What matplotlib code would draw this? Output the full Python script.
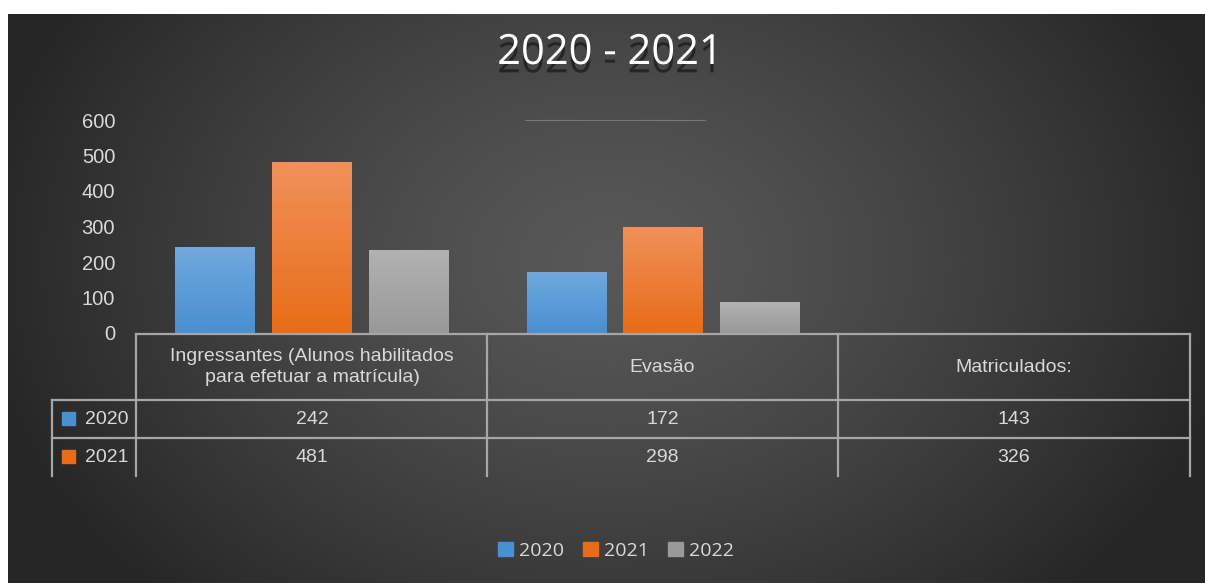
import matplotlib.pyplot as plt
import matplotlib.patheffects as pe
import numpy as np
from matplotlib.patches import Rectangle

# dados
categorias = ["Ingressantes (Alunos habilitados\npara efetuar a matrícula)", "Evasão", "Matriculados:"]
anos = ["2020", "2021", "2022"]
v2020 = [242, 172, 143]
v2021 = [481, 298, 326]
v2022 = [235, 87]          # sem linha na tabela
n_barras = 2               # a categoria "Matriculados:" não mostra barras
yticks = [0, 100, 200, 300, 400, 500, 600]

W, H = 1205, 583
fig = plt.figure(figsize=(W / 100, H / 100), dpi=100, facecolor="white")

def fx(px):
    return px / W

def fy(py):
    return 1 - py / H

# fundo com gradiente radial
bg = fig.add_axes([fx(8), 0, fx(W - 8), fy(14)])
bg.axis("off")
xx, yy = np.meshgrid(np.linspace(8, W, 400), np.linspace(14, H, 200))
r = np.sqrt(((xx - 610) / 640) ** 2 + ((yy - 260) / 480) ** 2)
lum = (88 - 50 * np.clip(r, 0, 1) ** 1.3) / 255
img = np.dstack([lum, lum, lum])
bg.imshow(img, extent=[0, 1, 0, 1], aspect="auto", origin="upper")
bg.set_xlim(0, 1)
bg.set_ylim(0, 1)

txt = "#d9d9d9"
linha = "#a6a6a6"

# titulo com sombra
fig.text(fx(610), fy(53), "2020 - 2021", ha="center", va="center", fontsize=30,
         family="Open Sans", color="white",
         path_effects=[pe.SimplePatchShadow(offset=(0, -6), shadow_rgbFace="#1a1a1a", alpha=0.75),
                       pe.Normal()])
fig.add_artist(plt.Line2D([fx(525), fx(705)], [fy(120), fy(120)], color="#777777", lw=0.8))

# eixo das barras
ax = fig.add_axes([fx(136), fy(333), fx(1190 - 136), fy(120) - fy(333)])
ax.set_facecolor("none")
ax.set_xlim(0, 3)
ax.set_ylim(0, 600)
for s in ax.spines.values():
    s.set_visible(False)
ax.set_xticks([])
ax.set_yticks(yticks)
ax.tick_params(axis="y", length=0, pad=15, labelsize=14.5, labelcolor=txt)
for lb in ax.get_yticklabels():
    lb.set_family("Liberation Sans")

cores = [("#70a9de", "#4a8fd1"), ("#f0915a", "#e86c18"), ("#b2b2b2", "#999999")]
series = [v2020, v2021, v2022]
largura = 0.225
offs = [-0.276, 0, 0.276]
for k, vals in enumerate(series):
    xs = np.arange(n_barras) + 0.5 + offs[k]
    bars = ax.bar(xs, vals[:n_barras], width=largura, color=cores[k][1], linewidth=0)
    grad = np.linspace(0, 1, 100).reshape(-1, 1)
    c_top = np.array(plt.matplotlib.colors.to_rgb(cores[k][0]))
    c_bot = np.array(plt.matplotlib.colors.to_rgb(cores[k][1]))
    for b in bars:
        g = c_top[None, None, :] * (1 - grad[:, :, None]) + c_bot[None, None, :] * grad[:, :, None]
        im = ax.imshow(g, extent=[b.get_x(), b.get_x() + b.get_width(), 0, b.get_height()],
                       aspect="auto", origin="upper", zorder=2)
        im.set_clip_path(b)

# tabela de dados
def hl(y, x0, x1):
    fig.add_artist(plt.Line2D([fx(x0), fx(x1)], [fy(y), fy(y)], color=linha, lw=1.6))

def vl(x, y0, y1):
    fig.add_artist(plt.Line2D([fx(x), fx(x)], [fy(y0), fy(y1)], color=linha, lw=1.6))

hl(334, 136, 1190)
hl(400, 52, 1190)
hl(438, 52, 1190)
for x in [136, 487, 838, 1190]:
    vl(x, 334, 476)
vl(52, 400, 476)

col_cx = [312, 662.5, 1014]
for i, c in enumerate(categorias):
    fig.text(fx(col_cx[i]), fy(367), c, ha="center", va="center", fontsize=14,
             color=txt, family="Liberation Sans", linespacing=1.35)
for j, (ano, vals) in enumerate(zip(anos[:2], [v2020, v2021])):
    yc = 419 + 38 * j
    fig.add_artist(Rectangle((fx(62), fy(yc + 6)), fx(13), fy(yc - 7) - fy(yc + 6),
                             color=cores[j][1], transform=fig.transFigure))
    fig.text(fx(85), fy(yc), ano, ha="left", va="center", fontsize=14, color=txt,
             family="Liberation Sans")
    for i, v in enumerate(vals):
        fig.text(fx(col_cx[i]), fy(yc), str(v), ha="center", va="center", fontsize=14,
                 color=txt, family="Liberation Sans")

# legenda
handles = [Rectangle((0, 0), 1, 1, color=cores[k][1]) for k in range(3)]
leg = fig.legend(handles, anos, loc="center", bbox_to_anchor=(fx(616), fy(551)), ncol=3,
                 frameon=False, handlelength=0.75, handleheight=0.75, handletextpad=0.3,
                 columnspacing=1.0, prop={"family": "Open Sans", "size": 14})
for t in leg.get_texts():
    t.set_color(txt)

fig.savefig("out.png", dpi=100, facecolor="white")
